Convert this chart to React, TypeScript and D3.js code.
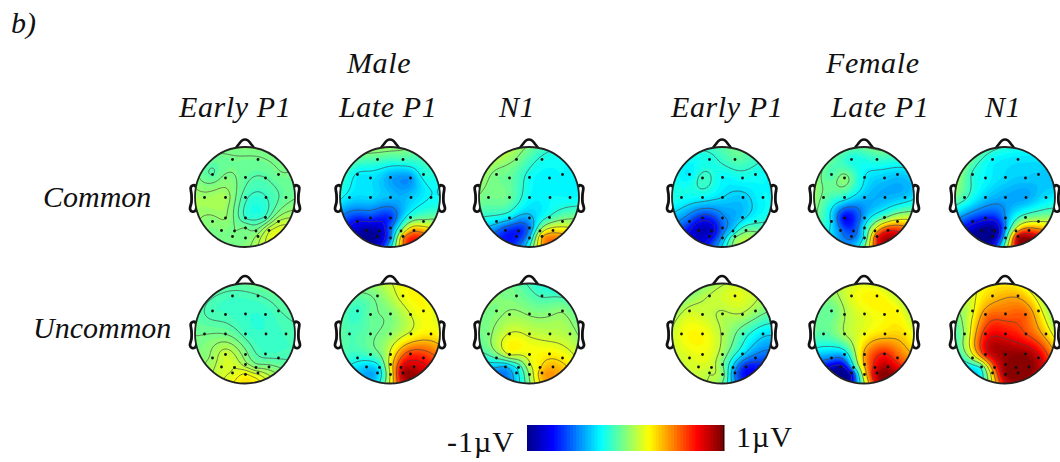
import React, { useMemo } from "react";
import * as d3 from "d3";

// electrode montage, in head radii (0,0 = Cz, y down)
const electrodeX = [-0.25, 0.26, -0.65, -0.39, 0.01, 0.41, 0.67, -0.81, -0.39, 0.01, 0.42, 0.82, -0.65, -0.39, 0.01, 0.41, 0.67, -0.47, -0.21, 0.01, 0.22, 0.48, -0.25, 0.01, 0.26];
const electrodeY = [-0.75, -0.75, -0.45, -0.38, -0.39, -0.38, -0.45, 0.01, 0.01, 0.01, 0.01, 0.01, 0.49, 0.42, 0.42, 0.41, 0.49, 0.67, 0.68, 0.62, 0.68, 0.67, 0.79, 0.82, 0.79];

// amplitude in uV at each electrode
const maleEarlyCommon = [-0.03, -0.03, -0.08, 0, -0.06, -0.08, -0.03, 0.06, 0.07, -0.12, -0.14, -0.05, 0.01, 0.04, -0.14, -0.12, 0.1, 0, -0.02, -0.02, -0.01, 0.14, -0.01, -0.01, 0.06];
const maleLateCommon = [-0.1, -0.12, -0.27, -0.3, -0.42, -0.45, -0.2, -0.3, -0.32, -0.38, -0.35, -0.25, -0.75, -0.65, -0.65, -0.15, 0.05, -0.95, -0.9, -0.55, 0, 0.45, -0.95, -0.5, 0.4];
const maleN1Common = [0, -0.2, -0.02, -0.05, -0.22, -0.27, -0.25, -0.03, -0.05, -0.25, -0.25, -0.25, -0.3, -0.3, -0.4, -0.15, 0.05, -0.65, -0.7, -0.5, 0.05, 0.3, -0.7, -0.35, 0.35];
const femaleEarlyCommon = [-0.2, -0.08, -0.28, -0.13, -0.25, -0.22, -0.22, -0.22, -0.25, -0.32, -0.35, -0.25, -0.6, -0.7, -0.5, -0.35, -0.2, -0.9, -0.85, -0.55, -0.3, -0.05, -0.8, -0.42, -0.05];
const femaleLateCommon = [-0.2, -0.15, -0.1, 0.02, -0.27, -0.35, -0.35, -0.05, -0.2, -0.38, -0.4, -0.35, -0.3, -0.75, -0.4, -0.05, 0.3, -0.5, -0.6, -0.25, 0.3, 0.7, -0.55, -0.2, 0.65];
const femaleN1Common = [-0.25, -0.3, -0.17, -0.25, -0.32, -0.35, -0.35, -0.12, -0.35, -0.42, -0.42, -0.3, -0.7, -0.7, -0.45, -0.05, 0.15, -1, -1, -0.45, 0.3, 0.6, -1, -0.25, 0.8];
const maleEarlyUncommon = [-0.12, -0.1, -0.12, -0.12, -0.15, -0.15, -0.1, -0.03, -0.03, -0.12, -0.15, -0.12, 0.06, 0.15, 0, -0.12, -0.1, 0.15, 0.17, 0.07, 0.03, 0, 0.18, 0.25, 0.15];
const maleLateUncommon = [0, 0.22, -0.15, -0.05, 0, 0.17, 0.25, -0.1, -0.05, 0.03, 0.2, 0.28, -0.18, -0.1, 0.2, 0.65, 0.7, -0.35, -0.25, 0.25, 0.75, 0.85, -0.35, 0.2, 0.9];
const maleN1Uncommon = [-0.02, -0.12, 0, 0.05, 0.02, 0.02, 0.02, 0, 0.18, 0.15, 0.12, 0.08, -0.1, 0.18, 0.22, 0.27, 0.27, -0.4, -0.2, 0.15, 0.3, 0.4, -0.3, 0.05, 0.4];
const femaleEarlyUncommon = [0.12, 0.2, 0.15, 0.15, 0.1, 0.1, 0.05, 0.22, 0.25, 0.1, -0.12, -0.3, 0.18, 0.22, 0.05, -0.3, -0.55, 0.17, 0.15, -0.02, -0.35, -0.7, 0.12, 0.03, -0.5];
const femaleLateUncommon = [0.2, 0.27, -0.05, 0.08, 0.2, 0.25, 0.25, -0.08, 0.08, 0.22, 0.32, 0.3, -0.5, -0.35, 0.42, 0.7, 0.6, -0.9, -0.3, 0.4, 0.75, 0.9, -0.75, 0.25, 0.9];
const femaleN1Uncommon = [0.35, 0.4, 0.2, 0.5, 0.55, 0.55, 0.3, 0.05, 0.7, 0.75, 0.62, 0.35, 0.1, 0.7, 0.95, 0.95, 0.85, -0.1, 0.6, 0.95, 1, 1, 0.35, 0.95, 1];

const commonMaps = [maleEarlyCommon, maleLateCommon, maleN1Common, femaleEarlyCommon, femaleLateCommon, femaleN1Common];
const uncommonMaps = [maleEarlyUncommon, maleLateUncommon, maleN1Uncommon, femaleEarlyUncommon, femaleLateUncommon, femaleN1Uncommon];

const columnLabels = ["Early P1", "Late P1", "N1", "Early P1", "Late P1", "N1"];
const columnLabelX = [179, 339, 499, 671, 831, 985];
const groupLabels = ["Male", "Female"];
const groupLabelX = [347, 826];
const rowLabels = ["Common", "Uncommon"];
const rowLabelX = [43, 33];
const rowLabelY = [207, 338];

const headX = [245, 390, 529, 722, 864, 1005];
const headY = [197, 333.5];
const headR = 50;

const jet = d3
  .scaleLinear<string>()
  .domain([-1, -0.75, -0.25, 0, 0.25, 0.75, 1])
  .range(["#00008f", "#0000ff", "#00ffff", "#7fff7f", "#ffff00", "#ff0000", "#800000"])
  .clamp(true);

const GRID = 90;
const SPAN = 1.08;

// griddata v4 style spline, same as topoplot
function surface(values: number[]) {
  const n = values.length;
  const green = (d: number) => (d === 0 ? 0 : d * d * (Math.log(d) - 1));
  const a = d3.range(n).map((i) => [
    ...d3.range(n).map((j) => green(Math.hypot(electrodeX[i] - electrodeX[j], electrodeY[i] - electrodeY[j]))),
    values[i],
  ]);
  for (let c = 0; c < n; c++) {
    let p = c;
    for (let r = c + 1; r < n; r++) if (Math.abs(a[r][c]) > Math.abs(a[p][c])) p = r;
    [a[c], a[p]] = [a[p], a[c]];
    for (let r = 0; r < n; r++) {
      if (r === c) continue;
      const f = a[r][c] / a[c][c];
      for (let k = c; k <= n; k++) a[r][k] -= f * a[c][k];
    }
  }
  const w = d3.range(n).map((i) => a[i][n] / a[i][i]);
  const pos = d3.scaleLinear().domain([0, GRID - 1]).range([-SPAN, SPAN]);
  const out: number[] = [];
  let lo = Infinity;
  let hi = -Infinity;
  for (let gy = 0; gy < GRID; gy++) {
    for (let gx = 0; gx < GRID; gx++) {
      const x = pos(gx);
      const y = pos(gy);
      const z = d3.sum(d3.range(n), (i) => w[i] * green(Math.hypot(x - electrodeX[i], y - electrodeY[i])));
      out.push(z);
      if (Math.hypot(x, y) <= 1) {
        lo = Math.min(lo, z);
        hi = Math.max(hi, z);
      }
    }
  }
  return { grid: out, lo, hi };
}

const fillLevels = d3.range(-1, 1, 2 / 64);

const outline = d3.line().curve(d3.curveCatmullRomClosed.alpha(0.5));
const nosePoints: [number, number][] = [
  [-0.19, -0.97], [-0.12, -1.06], [-0.06, -1.13], [0, -1.15], [0.06, -1.13], [0.12, -1.06], [0.19, -0.97],
];
const earPoints: [number, number][] = [
  [0.99, -0.22], [1.05, -0.23], [1.085, -0.19], [1.07, -0.05], [1.07, 0.1], [1.1, 0.24], [1.06, 0.29], [0.99, 0.27],
];

function Head({ cx, cy, values, id }: { cx: number; cy: number; values: number[]; id: string }) {
  const { fills, lines } = useMemo(() => {
    const { grid, lo, hi } = surface(values);
    const sx = d3.scaleLinear().domain([0.5, GRID - 0.5]).range([-SPAN * headR, SPAN * headR]);
    const path = d3.geoPath(
      d3.geoTransform({
        point(x, y) {
          this.stream.point(sx(x), sx(y));
        },
      })
    );
    const gen = d3.contours().size([GRID, GRID]).smooth(true);
    const fills = fillLevels.map((t) => ({
      color: jet(t + 1 / 64),
      d: path(gen.contour(grid, t)) || "",
    }));
    const lines = d3.range(1, 7).map((k) => path(gen.contour(grid, lo + (k * (hi - lo)) / 7)) || "");
    return { fills, lines };
  }, [values]);

  const earLeft = earPoints.map(([x, y]) => [-x * headR, y * headR] as [number, number]);
  const earRight = earPoints.map(([x, y]) => [x * headR, y * headR] as [number, number]);
  const nose = d3.line().curve(d3.curveCatmullRom)(nosePoints.map(([x, y]) => [x * headR, y * headR]));

  return (
    <g transform={`translate(${cx},${cy})`}>
      <clipPath id={id}>
        <circle r={headR} />
      </clipPath>
      <path d={nose || ""} fill="none" stroke="#111" strokeWidth={2.6} />
      <path d={outline(earLeft) || ""} fill="#fff" stroke="#111" strokeWidth={2.8} />
      <path d={outline(earRight) || ""} fill="#fff" stroke="#111" strokeWidth={2.8} />
      <g clipPath={`url(#${id})`} filter="url(#soft)">
        <circle r={headR} fill={jet(-1)} />
        {fills.map((f, i) => (
          <path key={i} d={f.d} fill={f.color} />
        ))}
        {lines.map((d, i) => (
          <path key={i} d={d} fill="none" stroke="#444" strokeWidth={0.8} strokeOpacity={0.85} />
        ))}
      </g>
      <circle r={headR} fill="none" stroke="#222" strokeWidth={1.8} />
      {electrodeX.map((x, i) => (
        <circle key={i} cx={x * headR} cy={electrodeY[i] * headR} r={1.4} fill="#111" />
      ))}
    </g>
  );
}

const serif = "'Liberation Serif', serif";

export default function App() {
  const barSteps = d3.range(64);
  const bar = d3.scaleBand<number>().domain(barSteps).range([527, 723]);
  const barValue = d3.scaleLinear().domain([0, 63]).range([-1, 1]);
  const labelStyle = { fontFamily: serif, fontStyle: "italic", fontSize: 30, fill: "#111" } as const;

  return (
    <svg width={1060} height={462} style={{ position: "absolute", left: 0, top: 0, background: "#fff" }}>
      <defs>
        <filter id="soft" x="-5%" y="-5%" width="110%" height="110%">
          <feGaussianBlur stdDeviation={0.5} />
        </filter>
      </defs>

      <text x={11} y={33} {...labelStyle}>b)</text>
      {groupLabels.map((t, i) => (
        <text key={t} x={groupLabelX[i]} y={73} {...labelStyle} letterSpacing={0.6}>{t}</text>
      ))}
      {columnLabels.map((t, i) => (
        <text key={i} x={columnLabelX[i]} y={117} {...labelStyle} letterSpacing={0.6}>{t}</text>
      ))}
      {rowLabels.map((t, i) => (
        <text key={t} x={rowLabelX[i]} y={rowLabelY[i]} {...labelStyle} letterSpacing={0}>{t}</text>
      ))}

      {[commonMaps, uncommonMaps].map((row, r) =>
        row.map((values, c) => (
          <Head key={`${r}-${c}`} id={`head-${r}-${c}`} cx={headX[c]} cy={headY[r]} values={values} />
        ))
      )}

      {barSteps.map((s) => (
        <rect key={s} x={bar(s)} y={425} width={(bar.bandwidth() || 0) + 1} height={26} fill={jet(barValue(s))} />
      ))}
      <rect x={723} y={425} width={1.5} height={26} fill="#2a0000" />
      <text x={447} y={452} fontFamily={serif} fontSize={30} fill="#111" letterSpacing={1}>-1µV</text>
      <text x={736} y={447} fontFamily={serif} fontSize={30} fill="#111" letterSpacing={1}>1µV</text>
    </svg>
  );
}
